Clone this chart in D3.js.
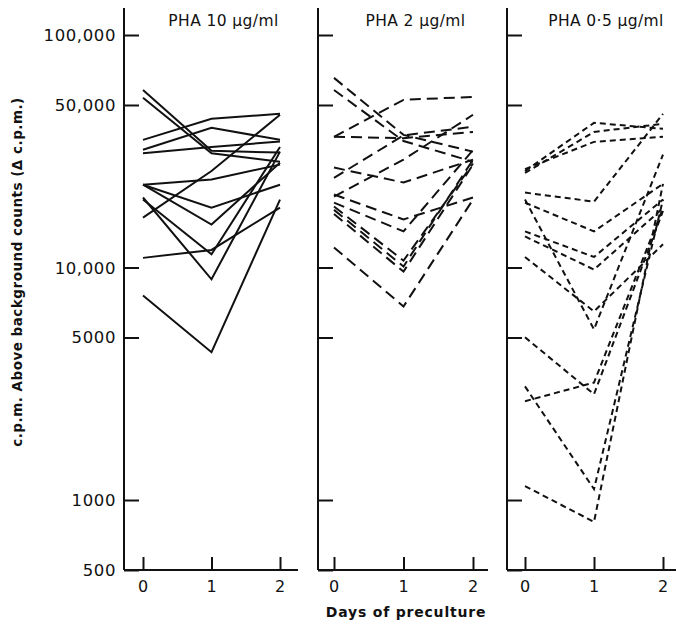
<!DOCTYPE html>
<html>
<head>
<meta charset="utf-8">
<script src="https://cdn.jsdelivr.net/npm/d3@7"></script>
<style>
  body { margin: 0; background: #fff; }
  text { font-family: "DejaVu Sans", "Open Sans", sans-serif; fill: #111; }
</style>
</head>
<body>
<script>
// Dage i forkultur og y-akse
var days = [0, 1, 2];
var yTicks = [500, 1000, 5000, 10000, 50000, 100000];
var yTickLabels = ["500", "1000", "5000", "10,000", "50,000", "100,000"];
var panelTitles = ["PHA 10 \u03bcg/ml", "PHA 2 \u03bcg/ml", "PHA 0\u00b75 \u03bcg/ml"];

// c.p.m. pr. kultur, dag 0, 1, 2
var pha10 = [
  [58000, 31800, 31200],
  [53700, 31000, 28500],
  [35400, 43600, 45800],
  [32100, 39900, 35400],
  [31000, 33000, 34800],
  [22700, 23900, 27700],
  [16400, 26000, 45400],
  [22700, 18100, 22700],
  [22700, 15300, 28200],
  [19600, 11400, 33000],
  [20000, 8900, 31500],
  [11000, 11900, 18100],
  [7580, 4320, 19600]
];

var pha2 = [
  [65400, 37200, 31500],
  [58000, 35000, 28500],
  [36500, 52600, 54200],
  [36500, 36000, 38300],
  [26900, 23200, 29100],
  [24300, 37000, 40300],
  [20200, 29100, 45400],
  [20600, 16100, 20000],
  [19000, 14300, 32000],
  [18300, 10700, 28000],
  [17700, 10100, 29100],
  [17000, 9600, 27700],
  [12200, 6800, 19600]
];

var pha05 = [
  [26000, 41900, 39500],
  [25500, 38300, 41500],
  [26500, 34700, 36500],
  [21000, 19200, 45800],
  [19600, 5420, 30600],
  [19000, 14300, 22900],
  [14300, 11100, 19600],
  [13600, 9800, 18000],
  [11100, 6470, 12600],
  [5010, 2850, 17500],
  [2660, 3200, 18000],
  [3080, 1114, 19600],
  [1148, 805, 22900]
];

var width = 676, height = 628;

var svg = d3.select("body").append("svg")
  .attr("width", width)
  .attr("height", height);

var y = d3.scaleLog().domain([500, 100000]).range([570, 35]);
var axisTop = 8;

// Panelernes placering
var panels = [
  { data: pha10, axisX: 124, x0: 143, x2: 280, right: 298, dash: null },
  { data: pha2, axisX: 318, x0: 334, x2: 473, right: 488, dash: "11,6" },
  { data: pha05, axisX: 507, x0: 525, x2: 663, right: 676, dash: "6,4" }
];

var line = d3.line();

panels.forEach(function(p, i) {
  var x = d3.scaleLinear().domain([0, 2]).range([p.x0, p.x2]);
  var g = svg.append("g");

  // y-akse med indadvendte streger
  var yAxis = d3.axisRight(y).tickValues(yTicks).tickSize(15).tickFormat("");
  var ya = g.append("g").attr("transform", "translate(" + p.axisX + ",0)").call(yAxis);
  ya.select(".domain").remove();
  ya.selectAll("line").attr("stroke", "#111").attr("stroke-width", 2);
  g.append("line")
    .attr("x1", p.axisX).attr("x2", p.axisX)
    .attr("y1", axisTop).attr("y2", y(500))
    .attr("stroke", "#111").attr("stroke-width", 2);

  // x-akse
  var xAxis = d3.axisTop(x).tickValues(days).tickSize(13).tickFormat("");
  var xa = g.append("g").attr("transform", "translate(0," + y(500) + ")").call(xAxis);
  xa.select(".domain").remove();
  xa.selectAll("line").attr("stroke", "#111").attr("stroke-width", 2);
  g.append("line")
    .attr("x1", p.axisX).attr("x2", p.right)
    .attr("y1", y(500)).attr("y2", y(500))
    .attr("stroke", "#111").attr("stroke-width", 2);

  g.selectAll(".xlab")
    .data(days)
    .enter()
    .append("text")
    .attr("x", function(d) { return x(d); })
    .attr("y", 592)
    .attr("text-anchor", "middle")
    .attr("font-size", "16px")
    .text(function(d) { return d; });

  // titel
  g.append("text")
    .attr("x", (p.x0 + p.x2) / 2 + 12)
    .attr("y", 26)
    .attr("text-anchor", "middle")
    .attr("font-size", "15.5px")
    .attr("letter-spacing", "0.4px")
    .text(panelTitles[i]);

  // kurver
  g.selectAll(".serie")
    .data(p.data)
    .enter()
    .append("path")
    .attr("d", function(vals) {
      return line(vals.map(function(v, j) { return [x(days[j]), y(v)]; }));
    })
    .attr("fill", "none")
    .attr("stroke", "#111")
    .attr("stroke-width", 2)
    .attr("stroke-linejoin", "miter")
    .attr("stroke-dasharray", p.dash);
});

// y-aksens tal
svg.selectAll(".ylab")
  .data(yTicks)
  .enter()
  .append("text")
  .attr("x", 116)
  .attr("y", function(d) { return y(d) + 6; })
  .attr("text-anchor", "end")
  .attr("font-size", "16.5px")
  .attr("letter-spacing", "0.6px")
  .text(function(d, i) { return yTickLabels[i]; });

// aksetitler
svg.append("text")
  .attr("transform", "translate(22,272) rotate(-90)")
  .attr("text-anchor", "middle")
  .attr("font-size", "13.5px")
  .attr("font-weight", "bold")
  .attr("letter-spacing", "0.5px")
  .text("c.p.m. Above background counts (\u0394 c.p.m.)");

svg.append("text")
  .attr("x", 406)
  .attr("y", 617)
  .attr("text-anchor", "middle")
  .attr("font-size", "14px")
  .attr("font-weight", "bold")
  .attr("letter-spacing", "0.8px")
  .text("Days of preculture");
</script>
</body>
</html>
